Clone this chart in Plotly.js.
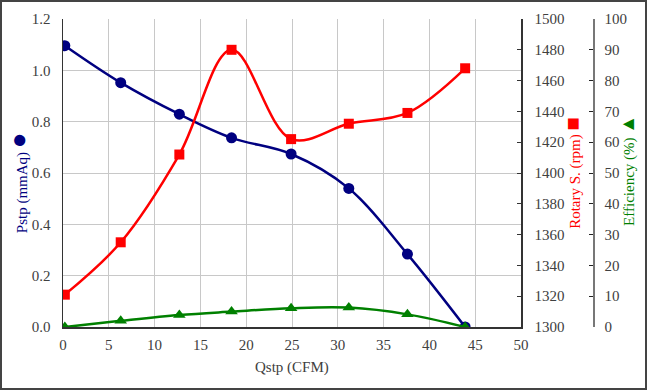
<!DOCTYPE html>
<html><head><meta charset="utf-8">
<script src="https://cdn.plot.ly/plotly-3.0.1.min.js"></script>
<style>
body{margin:0;background:#fff;}
#wrap{position:relative;width:647px;height:390px;}
#frame{position:absolute;left:0;top:0;width:647px;height:390px;box-sizing:border-box;border:2px solid #444;pointer-events:none;}
</style>
</head><body>
<div id="wrap"><div id="chart" style="width:647px;height:390px"></div><div id="frame"></div></div>
<script>
const flow = [0.2, 6.3, 12.7, 18.4, 24.9, 31.2, 37.6, 43.9];
const pressure = [1.096, 0.952, 0.829, 0.737, 0.674, 0.540, 0.284, 0.0];
const speed = [1321, 1355, 1412, 1480, 1422, 1432, 1439, 1468];
const efficiency = [0, 2.0, 3.9, 5.0, 6.1, 6.3, 4.1, 0];

const BLUE = '#000080', RED = '#ff0000', GREEN = '#008000';
const FONT = '"Liberation Serif", serif';
const TICKC = '#404040';
const FS = 15;

const traces = [
  {x: flow, y: pressure, type: 'scatter', mode: 'lines+markers', yaxis: 'y',
   line: {color: BLUE, width: 2.5, shape: 'spline', smoothing: 1},
   marker: {color: BLUE, size: 11, symbol: 'circle'}},
  {x: flow, y: speed, type: 'scatter', mode: 'lines+markers', yaxis: 'y2',
   line: {color: RED, width: 2.5, shape: 'spline', smoothing: 1},
   marker: {color: RED, size: 10, symbol: 'square'}},
  {x: flow, y: efficiency, type: 'scatter', mode: 'lines+markers', yaxis: 'y3',
   line: {color: GREEN, width: 2.5, shape: 'spline', smoothing: 1},
   marker: {color: GREEN, size: 11, symbol: 'triangle-up'}}
];

const layout = {
  width: 647, height: 390,
  margin: {l: 63, r: 54, t: 19, b: 63},
  paper_bgcolor: '#fff', plot_bgcolor: '#fff',
  showlegend: false,
  font: {family: FONT, size: FS, color: TICKC},
  xaxis: {domain: [0, 0.8642], range: [0, 50], dtick: 5, tick0: 0,
    showgrid: true, gridcolor: '#c8c8c8', gridwidth: 1,
    showline: true, linecolor: '#333', linewidth: 1.5,
    zeroline: false, ticks: '', ticklabelstandoff: 3,
    tickfont: {family: FONT, size: FS, color: TICKC}},
  xaxis2: {overlaying: 'x', side: 'top', anchor: 'y', range: [0, 50], domain: [0, 0.8642],
    showgrid: false, zeroline: false, showticklabels: false, ticks: '',
    showline: true, linecolor: '#999', linewidth: 1.5},
  yaxis: {range: [0, 1.2], dtick: 0.2, tick0: 0, tickformat: '.1f',
    showgrid: true, gridcolor: '#c8c8c8', gridwidth: 1,
    showline: true, linecolor: '#333', linewidth: 1.5,
    zeroline: false, ticks: '', ticklabelstandoff: 8,
    tickfont: {family: FONT, size: FS, color: TICKC}},
  yaxis2: {overlaying: 'y', side: 'right', anchor: 'x', range: [1300, 1500], dtick: 20, tick0: 1300,
    showgrid: false, zeroline: false, showline: true, linecolor: '#333', linewidth: 1.5,
    ticks: 'inside', ticklen: 4, tickcolor: '#333', ticklabelstandoff: 9,
    tickfont: {family: FONT, size: FS, color: TICKC}},
  yaxis3: {overlaying: 'y', side: 'right', anchor: 'free', position: 1, range: [0, 100], dtick: 10, tick0: 0,
    showgrid: false, zeroline: false, showline: true, linecolor: '#777', linewidth: 1.5,
    ticks: 'inside', ticklen: 4, tickcolor: '#222', ticklabelstandoff: 7,
    tickfont: {family: FONT, size: FS, color: TICKC}},
  annotations: [
    {text: 'Qstp (CFM)', xref: 'paper', yref: 'paper', x: 0.432, y: -0.133,
     xanchor: 'center', yanchor: 'middle', showarrow: false,
     font: {family: FONT, size: FS, color: TICKC}},
    {text: 'Pstp (mmAq) <span style="font-size:26px">●</span>', xref: 'paper', yref: 'paper', x: -0.085, y: 0.47,
     xanchor: 'center', yanchor: 'middle', textangle: -90, showarrow: false,
     font: {family: FONT, size: FS, color: BLUE}},
    {text: 'Rotary S. (rpm) <span style="font-size:22px">■</span>', xref: 'paper', yref: 'paper', x: 0.960, y: 0.50,
     xanchor: 'center', yanchor: 'middle', textangle: -90, showarrow: false,
     font: {family: FONT, size: FS, color: RED}},
    {text: 'Efficiency (%) <span style="font-size:19px">▲</span>', xref: 'paper', yref: 'paper', x: 1.066, y: 0.51,
     xanchor: 'center', yanchor: 'middle', textangle: -90, showarrow: false,
     font: {family: FONT, size: FS, color: GREEN}}
  ]
};

Plotly.newPlot('chart', traces, layout, {displayModeBar: false, staticPlot: true});
</script>
</body></html>
